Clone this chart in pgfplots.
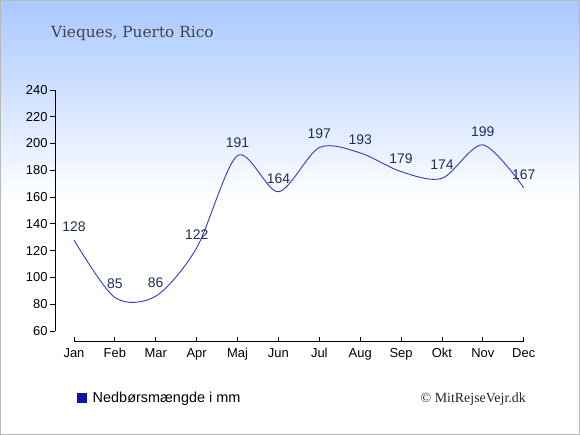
\documentclass[border=0pt]{standalone}
\usepackage{pgfplots}
\pgfplotsset{compat=1.18}
\usepackage{fontspec}
\setmainfont{Liberation Sans}
\newfontfamily\titlefont{DejaVu Serif}
\newfontfamily\copyfont{Liberation Serif}
\definecolor{bgtop}{HTML}{A8C8FF}
\definecolor{linec}{HTML}{3838C8}
\definecolor{labc}{HTML}{1F2F55}
\definecolor{legc}{HTML}{0A14A8}
\definecolor{titc}{HTML}{444444}
\begin{document}
\begin{tikzpicture}[x=1bp,y=1bp]
\path[use as bounding box] (0,0) rectangle (580,435);
\fill[white] (0,0) rectangle (580,435);
\shade[top color=bgtop, bottom color=white] (0,235) rectangle (580,435);
\draw[gray!55, line width=1bp] (0.5,0.5) rectangle (579.5,434.5);
\node[anchor=base west, inner sep=0pt, text=titc, font=\titlefont\fontsize{15.4}{18}\selectfont] at (51,397) {Vieques, Puerto Rico};
\node[anchor=base east, inner sep=0pt, text=black!85, font=\copyfont\fontsize{14}{16}\selectfont] at (526,32) {© MitRejseVejr.dk};
\begin{axis}[
  at={(55bp,94bp)}, anchor=south west, scale only axis,
  width=481bp, height=251bp,
  xmin=-0.464, xmax=11.3, ymin=52.5, ymax=240,
  clip=false,
  /pgf/number format/assume math mode=true,
  axis line style={draw=none},
  xtick pos=bottom, ytick pos=left,
  tick align=inside, major tick length=5bp,
  xtick={0,...,11},
  xticklabels={Jan,Feb,Mar,Apr,Maj,Jun,Jul,Aug,Sep,Okt,Nov,Dec},
  ytick={60,80,...,240},
  xtick style={black, line width=0.8bp, yshift=-1.5bp},
  ytick style={black, line width=0.8bp, xshift=-5bp},
  ticklabel style={font=\fontsize{13}{15}\selectfont, text=black},
  xticklabel style={yshift=-4bp},
  yticklabel style={xshift=-4bp},
  legend style={at={(0.045,-0.226)}, anchor=west, draw=none, fill=none, inner sep=0pt,
    column sep=3.5bp, font=\fontsize{14.5}{16}\selectfont},
  legend image code/.code={\fill[legc] (0bp,-4.5bp) rectangle (9.5bp,4.5bp);},
]
\draw[black, line width=0.8bp] (axis cs:-0.464,60) -- (axis cs:-0.464,240);
\draw[black, line width=0.8bp] (axis cs:0,52.5) -- (axis cs:11,52.5);
\addplot[smooth, tension=0.5, linec, line width=0.9bp,
  nodes near coords,
  every node near coord/.append style={font=\fontsize{14}{16}\selectfont, text=labc, anchor=south, inner sep=0pt, yshift=8bp}]
  coordinates {(0,128) (1,85) (2,86) (3,122) (4,191) (5,164) (6,197) (7,193) (8,179) (9,174) (10,199) (11,167)};
\addlegendentry{Nedbørsmængde i mm}
\end{axis}
\end{tikzpicture}
\end{document}
